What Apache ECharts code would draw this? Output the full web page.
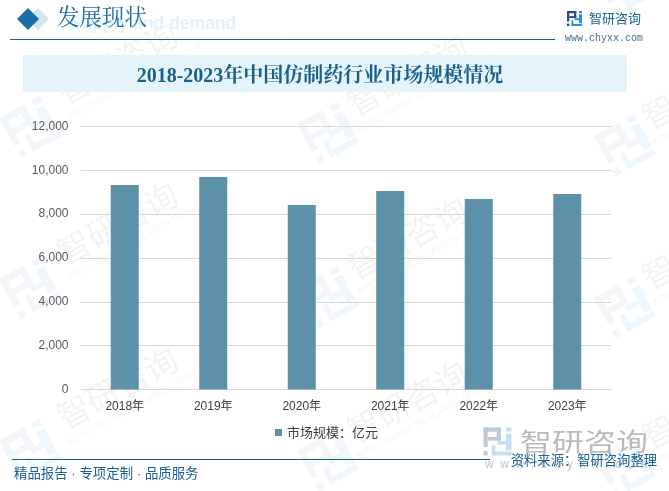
<!DOCTYPE html>
<html><head><meta charset="utf-8">
<script src="https://cdn.jsdelivr.net/npm/echarts@6/dist/echarts.min.js"></script>
<style>html,body{margin:0;padding:0;background:#fff}#c{width:669px;height:491px}</style>
</head><body><div id="c"></div>
<script>
const categories = ['2018年','2019年','2020年','2021年','2022年','2023年'];
const seriesName = '市场规模：亿元';
const marketSize = [9330, 9700, 8420, 9060, 8690, 8920];
const yMax = 12000, yStep = 2000;
const chartTitle = '2018-2023年中国仿制药行业市场规模情况';
const sectionTitle = '发展现状';
const sectionGhost = 'Supply and demand';
const footerLeft = '精品报告 · 专项定制 · 品质服务';
const footerRight = '资料来源：智研咨询整理';
const brand = '智研咨询', site = 'www.chyxx.com', brandEn = 'INTELLIGENCE RESEARCH GROUP';

const SANS = '"Liberation Sans","Noto Sans CJK SC",sans-serif';
const CJK = '"Noto Sans CJK SC",sans-serif';
const SERIF = '"Liberation Serif","Noto Serif CJK SC","Noto Sans CJK SC",serif';

function logo(x, y, s, rot, c1, c2, z) {
  const R = (a, b, w, h, c) => ({type:'rect', silent:true, z, shape:{x:(a-.5)*s, y:(b-.5)*s, width:w*s, height:h*s}, style:{fill:c}});
  return {type:'group', x, y, rotation:rot, children:[
    R(0,0,.62,.15,c1), R(.47,0,.15,.46,c1), R(.15,.34,.47,.13,c1), R(0,0,.15,.7,c1), R(0,.84,.15,.16,c1),
    R(.8,0,.2,.14,c2), R(.8,.22,.2,.6,c2), R(.3,.62,.12,.38,c2), R(.3,.86,.7,.14,c2), R(.5,.48,.3,.13,c2)
  ]};
}
const rot = 0.5;
const wmLogos = [[30,127],[328,133],[625,145],[30,288],[328,297],[625,307],[30,450],[328,460],[625,467],[625,-15]];
const wmTexts = [[120,68],[410,80],[120,228],[410,243],[120,393],[410,407],[705,93],[705,253],[705,413]];
const g = [];
wmLogos.forEach(p => g.push(logo(p[0],p[1],46,rot,'#f2f6f9','#eff7fc',-5)));
wmTexts.forEach(p => {
  g.push({type:'group', x:p[0], y:p[1], rotation:rot, children:[
    {type:'text', silent:true, z:-5, x:0, y:-6, style:{text:brand, fill:'#f3f3f3', font:'33px '+CJK, textAlign:'center', textVerticalAlign:'middle'}},
    {type:'text', silent:true, z:-5, x:6, y:19, style:{text:brandEn, fill:'#f5f5f5', font:'9px '+SANS, textAlign:'center', textVerticalAlign:'middle'}}
  ]});
});
// header
g.push({type:'text', silent:true, z:-4, x:70, y:24, style:{text:sectionGhost, fill:'#e3f1fa', font:'bold 17.5px '+SANS, textVerticalAlign:'middle', textAlign:'left'}});
g.push({type:'polygon', silent:true, z:-3, shape:{points:[[38,8],[49,19],[38,30],[27,19]]}, style:{fill:'#d5e5ef'}});
g.push({type:'polygon', silent:true, z:-3, shape:{points:[[28,8],[39,19],[28,30],[17,19]]}, style:{fill:'#1a6ea8'}});
g.push({type:'text', silent:true, z:-3, x:57, y:19, style:{text:sectionTitle, fill:'#1f6d9f', font:'22.5px '+SERIF, textVerticalAlign:'middle', textAlign:'left'}});
g.push({type:'line', silent:true, z:-3, shape:{x1:10,y1:39.5,x2:555,y2:39.5}, style:{stroke:'#1a5e8a', lineWidth:1}});
g.push({type:'rect', silent:true, z:-3, shape:{x:23,y:55,width:604,height:37}, style:{fill:'#e5f3fb'}});
g.push({type:'text', silent:true, z:-2, x:320, y:76.5, style:{text:chartTitle, fill:'#1a5f8a', font:'bold 20px '+SERIF, textAlign:'center', textVerticalAlign:'middle'}});
g.push(logo(574.5,18.5,15,0,'#2b4a85','#2a93d5',-2));
g.push({type:'text', silent:true, z:-2, x:589, y:18, style:{text:brand, fill:'#1a6394', font:'13px '+CJK, textVerticalAlign:'middle', textAlign:'left'}});
g.push({type:'text', silent:true, z:-2, x:565, y:38, style:{text:site, fill:'#3f6f96', font:'10px "Liberation Mono",monospace', textVerticalAlign:'middle', textAlign:'left'}});
// footer
g.push(logo(497.5,441.5,28,0,'#bcc9dc','#c5e0f1',-2));
g.push({type:'text', silent:true, z:-2, x:520, y:441.5, scaleY:0.78, style:{text:brand, fill:'#bababa', font:'32px '+CJK, textVerticalAlign:'middle', textAlign:'left'}});
g.push({type:'text', silent:true, z:-2, x:485, y:465, style:{text:site.split('').join('  '), fill:'#c4c4c4', font:'12px '+SANS, textVerticalAlign:'middle', textAlign:'left'}});
g.push({type:'line', silent:true, z:5, shape:{x1:12,y1:459.5,x2:490,y2:459.5}, style:{stroke:'#1a5e8a', lineWidth:1}});
g.push({type:'text', silent:true, z:5, x:14, y:474, style:{text:footerLeft, fill:'#1a5f8f', font:'13.4px '+SANS, textVerticalAlign:'middle', textAlign:'left'}});
g.push({type:'text', silent:true, z:5, x:657, y:460, style:{text:footerRight, fill:'#1a5f8f', font:'13.3px '+CJK, textVerticalAlign:'middle', textAlign:'right'}});

const chart = echarts.init(document.getElementById('c'), null, {renderer:'canvas'});
chart.setOption({
  animation:false,
  backgroundColor:'#fff',
  graphic:{elements:g},
  grid:{left:80.5, right:57.5, top:126.5, bottom:491-389.5, containLabel:false},
  legend:{show:true, data:[seriesName], left:270, top:421, icon:'rect', itemWidth:7, itemHeight:7, itemGap:3,
    textStyle:{color:'#404040', fontSize:13, fontFamily:CJK}},
  xAxis:{type:'category', data:categories,
    axisLine:{show:true, lineStyle:{color:'#d9d9d9', width:1}}, axisTick:{show:false},
    axisLabel:{color:'#404040', fontSize:12, fontFamily:SANS, margin:11, interval:0}},
  yAxis:{type:'value', min:0, max:yMax, interval:yStep,
    axisLine:{show:false}, axisTick:{show:false},
    splitLine:{lineStyle:{color:'#d9d9d9', width:1}},
    axisLabel:{color:'#595959', fontSize:12, fontFamily:SANS, margin:12,
      formatter:v=>v.toLocaleString('en-US')}},
  series:[{name:seriesName, type:'bar', data:marketSize, barWidth:28,
    itemStyle:{color:'#5d91a9'}, z:3}]
});
</script></body></html>
